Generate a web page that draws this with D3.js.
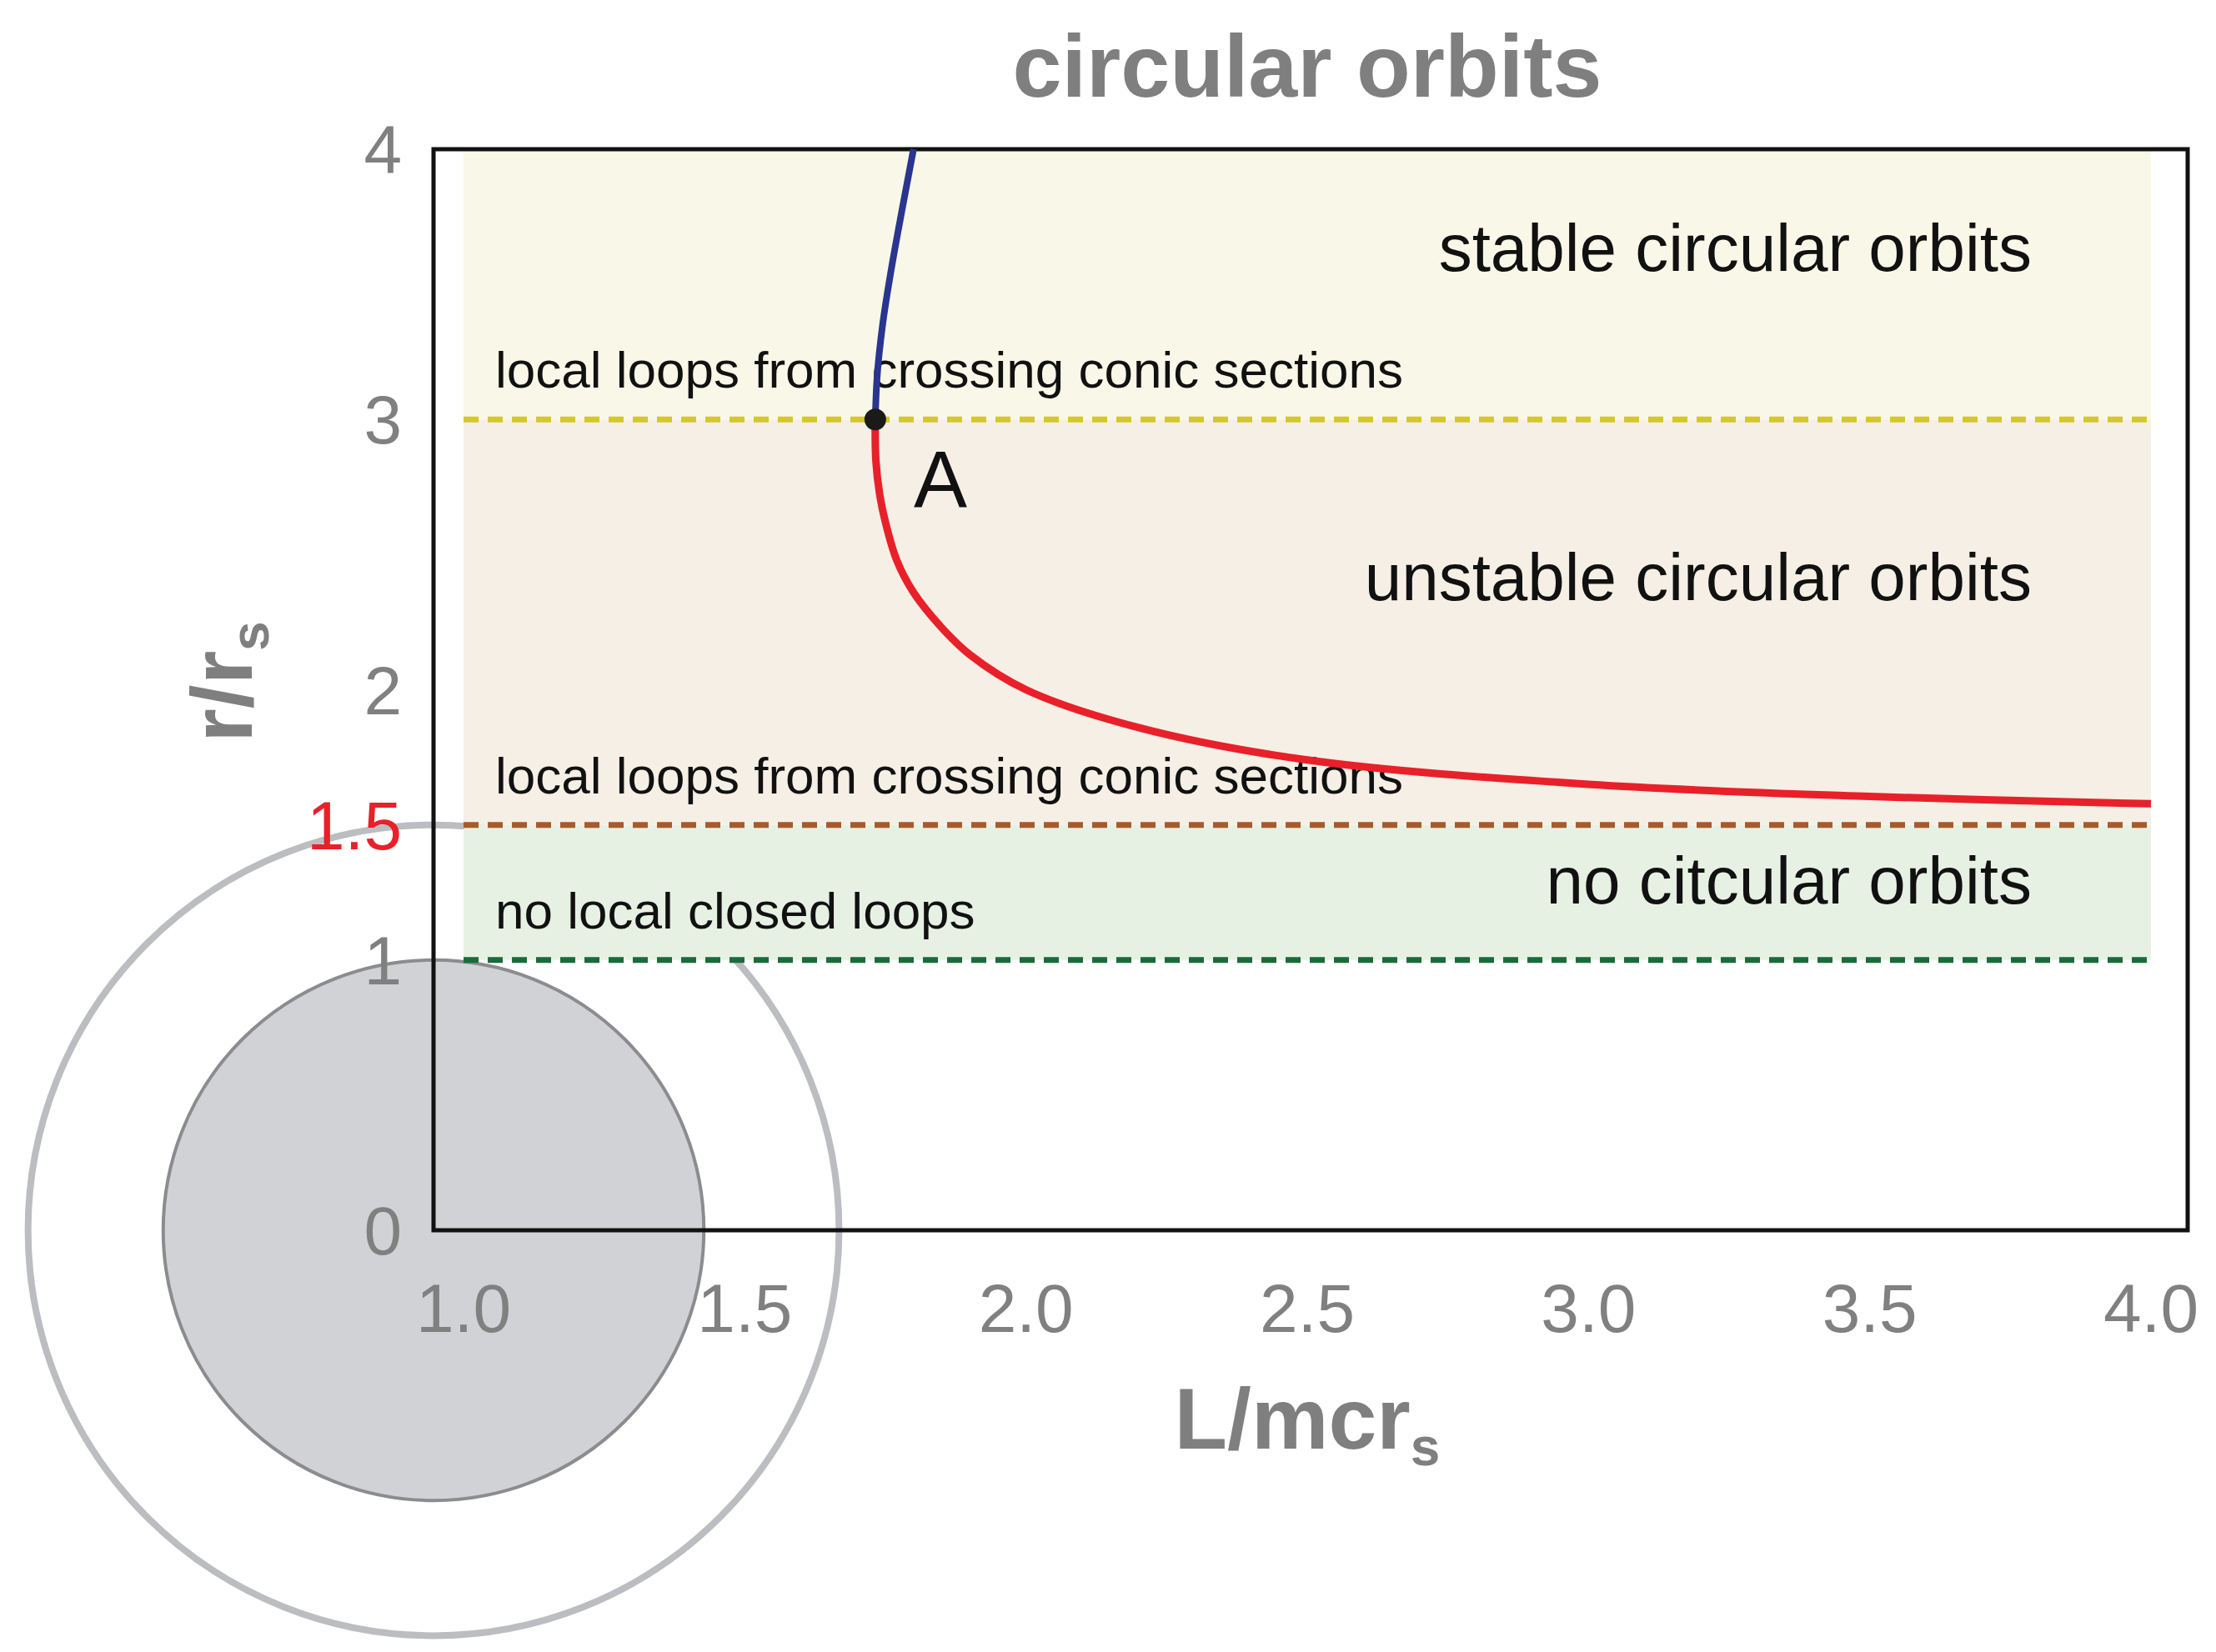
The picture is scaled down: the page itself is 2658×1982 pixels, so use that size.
<!DOCTYPE html>
<html><head><meta charset="utf-8">
<script src="https://cdn.jsdelivr.net/npm/d3@7"></script>
<style>body{margin:0;background:#fff}text{font-family:"Liberation Sans",Arial,sans-serif}</style>
</head><body><div id="chart"></div>
<script>
// values
const xTicks = [1.0, 1.5, 2.0, 2.5, 3.0, 3.5, 4.0];
const yTicks = [0, 1, 1.5, 2, 3, 4];
const redBranch = [[1.732,3],[1.733,2.85],[1.74,2.72],[1.75,2.62],[1.77,2.48],[1.8,2.36],[1.85,2.23],[1.9,2.13],[2.0,2.0],[2.2,1.86],[2.5,1.74],[3.0,1.65],[3.5,1.605],[4.0,1.578]];
const blueBranch = [[1.732,3],[1.735,3.15],[1.745,3.35],[1.76,3.55],[1.78,3.78],[1.8,4.0]];
const bands = [
  {y0: 3, y1: 4, fill: '#f9f8e8', line: '#d4c82a'},
  {y0: 1.5, y1: 3, fill: '#f6efe5', line: '#a85a2a'},
  {y0: 1, y1: 1.5, fill: '#e6f1e4', line: '#1a6b3a'}
];
const smallLabels = [
  {y: 3, text: 'local loops from crossing conic sections'},
  {y: 1.5, text: 'local loops from crossing conic sections'},
  {y: 1, text: 'no local closed loops'}
];
const bigLabels = [
  {y: 3.55, text: 'stable circular orbits'},
  {y: 2.33, text: 'unstable circular orbits'},
  {y: 1.21, text: 'no citcular orbits'}
];

const W = 2658, H = 1982;
const svg = d3.select('#chart').append('svg').attr('width', W).attr('height', H);
const x = d3.scaleLinear().domain([1, 4]).range([556, 2580]);
const y = d3.scaleLinear().domain([0, 4]).range([1476, 179]);
const left = 520, right = 2624;
const unit = y(0) - y(1);

// reference circles
svg.append('circle').attr('cx', left).attr('cy', y(0)).attr('r', 1.5 * unit)
  .attr('fill', 'none').attr('stroke', '#bcbdc1').attr('stroke-width', 8);
svg.append('circle').attr('cx', left).attr('cy', y(0)).attr('r', unit)
  .attr('fill', '#d1d2d5').attr('stroke', '#8c8c90').attr('stroke-width', 4);

// bands
bands.forEach(b => {
  svg.append('rect').attr('x', x(1)).attr('width', x(4) - x(1))
    .attr('y', y(b.y1)).attr('height', y(b.y0) - y(b.y1)).attr('fill', b.fill);
});
bands.forEach(b => {
  svg.append('line').attr('x1', x(1)).attr('x2', x(4)).attr('y1', y(b.y0)).attr('y2', y(b.y0))
    .attr('stroke', b.line).attr('stroke-width', 7).attr('stroke-dasharray', '18,11');
});

// frame
svg.append('rect').attr('x', left).attr('y', y(4)).attr('width', right - left).attr('height', y(0) - y(4))
  .attr('fill', 'none').attr('stroke', '#111').attr('stroke-width', 5);

// tick labels
svg.selectAll('.xt').data(xTicks).enter().append('text')
  .attr('x', d => x(d)).attr('y', 1598).attr('text-anchor', 'middle')
  .attr('font-size', 82).attr('fill', '#808080').text(d => d.toFixed(1));
svg.selectAll('.yt').data(yTicks).enter().append('text')
  .attr('x', 482).attr('y', d => y(d) + 29).attr('text-anchor', 'end')
  .attr('font-size', 82).attr('fill', d => d === 1.5 ? '#e8202a' : '#808080').text(d => d);

// titles
svg.append('text').attr('x', 1568).attr('y', 116).attr('text-anchor', 'middle')
  .attr('font-size', 106).attr('font-weight', 'bold').attr('fill', '#7f7f7f').text('circular orbits');
const xt = svg.append('text').attr('x', 1568).attr('y', 1738).attr('text-anchor', 'middle')
  .attr('font-size', 104).attr('font-weight', 'bold').attr('fill', '#7f7f7f');
xt.append('tspan').text('L/mcr');
xt.append('tspan').attr('font-size', 64).attr('dy', 20).text('s');
const yt = svg.append('text').attr('transform', 'translate(302,818) rotate(-90)').attr('text-anchor', 'middle')
  .attr('font-size', 104).attr('font-weight', 'bold').attr('fill', '#7f7f7f');
yt.append('tspan').text('r/r');
yt.append('tspan').attr('font-size', 64).attr('dy', 20).text('s');

// region labels
svg.selectAll('.sl').data(smallLabels).enter().append('text')
  .attr('x', 594).attr('y', d => y(d.y) - 38).attr('font-size', 62).attr('fill', '#111').text(d => d.text);
svg.selectAll('.bl').data(bigLabels).enter().append('text')
  .attr('x', 2437).attr('y', d => y(d.y)).attr('text-anchor', 'end').attr('font-size', 80).attr('fill', '#111').text(d => d.text);

// curves
const line = d3.line().x(d => x(d[0])).y(d => y(d[1])).curve(d3.curveMonotoneY);
svg.append('path').attr('d', d3.line().x(d => x(d[0])).y(d => y(d[1])).curve(d3.curveCatmullRom)(redBranch))
  .attr('fill', 'none').attr('stroke', '#e8202a').attr('stroke-width', 9);
svg.append('path').attr('d', line(blueBranch))
  .attr('fill', 'none').attr('stroke', '#2a3590').attr('stroke-width', 8);
svg.append('circle').attr('cx', x(1.732)).attr('cy', y(3)).attr('r', 13).attr('fill', '#1a1a1a');
svg.append('text').attr('x', 1096).attr('y', 608).attr('font-size', 96).attr('fill', '#111').text('A');
</script></body></html>
